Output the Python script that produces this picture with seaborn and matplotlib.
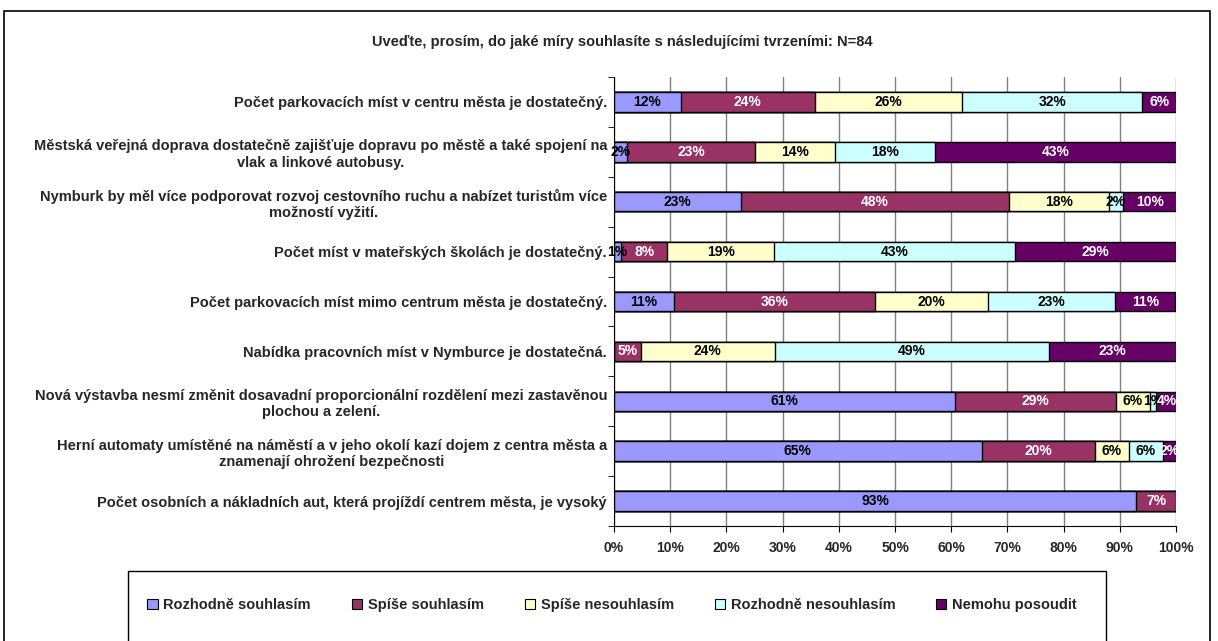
import matplotlib
matplotlib.use("Agg")
import numpy as np
import seaborn as sns
from matplotlib import pyplot as plt
from matplotlib.patches import Patch, Rectangle

title = "Uveďte, prosím, do jaké míry souhlasíte s následujícími tvrzeními: N=84"

statements = [
    "Počet parkovacích míst v centru města je dostatečný.",
    "Městská veřejná doprava dostatečně zajišťuje dopravu po městě a také spojení na\nvlak a linkové autobusy.",
    "Nymburk by měl více podporovat rozvoj cestovního ruchu a nabízet turistům více\nmožností vyžití.",
    "Počet míst v mateřských školách je dostatečný.",
    "Počet parkovacích míst mimo centrum města je dostatečný.",
    "Nabídka pracovních míst v Nymburce je dostatečná.",
    "Nová výstavba nesmí změnit dosavadní proporcionální rozdělení mezi zastavěnou\nplochou a zelení.",
    "Herní automaty umístěné na náměstí a v jeho okolí kazí dojem z centra města a\nznamenají ohrožení bezpečnosti",
    "Počet osobních a nákladních aut, která projíždí centrem města, je vysoký",
]

answers = ["Rozhodně souhlasím", "Spíše souhlasím", "Spíše nesouhlasím",
           "Rozhodně nesouhlasím", "Nemohu posoudit"]
colors = ["#9999FF", "#993366", "#FFFFCC", "#CCFFFF", "#660066"]
text_colors = ["black", "white", "black", "black", "white"]

# shares in %, one list per answer, in statement order
rozhodne_souhlasim = [11.9, 2.4, 22.6, 1.2, 10.7, 0.0, 60.7, 65.4, 92.9]
spise_souhlasim = [23.8, 22.6, 47.6, 8.3, 35.7, 4.8, 28.6, 20.2, 7.1]
spise_nesouhlasim = [26.2, 14.3, 17.9, 19.0, 20.2, 23.8, 6.0, 6.0, 0.0]
rozhodne_nesouhlasim = [32.1, 17.9, 2.4, 42.9, 22.6, 48.8, 1.2, 6.0, 0.0]
nemohu_posoudit = [6.0, 42.9, 9.6, 28.6, 10.7, 22.6, 3.6, 2.4, 0.0]

xticks = [0, 10, 20, 30, 40, 50, 60, 70, 80, 90, 100]


def main():
    sns.set_style("white")
    plt.rcParams["font.family"] = ["Liberation Sans", "DejaVu Sans"]

    values = np.array([rozhodne_souhlasim, spise_souhlasim, spise_nesouhlasim,
                       rozhodne_nesouhlasim, nemohu_posoudit]).T
    cum = np.cumsum(values, axis=1)

    fig = plt.figure(figsize=(12.18, 6.41), dpi=100)
    ax = fig.add_axes([614 / 1218, 1 - 526 / 641, (1176 - 614) / 1218, (526 - 77) / 641])

    # stacked bars: draw cumulative totals from the widest down
    for k in reversed(range(len(answers))):
        sns.barplot(x=cum[:, k], y=statements, orient="h", color=colors[k],
                    saturation=1, edgecolor="black", linewidth=1, width=0.39, ax=ax)

    for i in range(len(statements)):
        for k in range(len(answers)):
            v = values[i, k]
            if v <= 0:
                continue
            ax.text(cum[i, k] - v / 2, i, f"{v:.0f}%", ha="center", va="center",
                    fontsize=10, fontweight="bold", color=text_colors[k])

    ax.set_xlim(0, 100)
    ax.set_ylim(len(statements) - 0.5, -0.5)
    ax.set_xticks(xticks)
    ax.set_xticklabels([f"{t}%" for t in xticks], fontsize=10, fontweight="bold")
    ax.set_xlabel("")
    ax.set_ylabel("")
    ax.xaxis.grid(True, color="#808080", lw=1)
    ax.set_axisbelow(True)

    ax.set_yticks(np.arange(len(statements) + 1) - 0.5, minor=True)
    ax.tick_params(axis="y", which="major", length=0, pad=5)
    ax.tick_params(axis="y", which="minor", length=4, color="black", left=True)
    ax.tick_params(axis="x", length=4, color="black", bottom=True, pad=7)
    for t in ax.get_yticklabels():
        t.set_fontsize(10.5)
        t.set_fontweight("bold")
        t.set_multialignment("center")

    sns.despine(ax=ax, top=True, right=True)
    ax.spines["left"].set_color("black")
    ax.spines["bottom"].set_color("black")

    fig.text(622 / 1218, 1 - 42 / 641, title, ha="center", va="center",
             fontsize=10.5, fontweight="bold")

    # outer chart border and legend frame
    fig.add_artist(Rectangle((4 / 1218, -0.1), 1206 / 1218, 0.1 + 1 - 11 / 641,
                             transform=fig.transFigure, fill=False, lw=1.2,
                             edgecolor="black", clip_on=False))
    fig.add_artist(Rectangle((128 / 1218, -0.1), 978 / 1218, 0.1 + 1 - 571 / 641,
                             transform=fig.transFigure, fill=False, lw=1,
                             edgecolor="black", clip_on=False))

    handles = [Patch(facecolor=c, edgecolor="black", lw=0.8) for c in colors]
    fig.legend(handles, answers, loc="center", ncol=5, frameon=False,
               bbox_to_anchor=(612 / 1218, 1 - 605 / 641),
               handlelength=0.7, handleheight=0.7, handletextpad=0.4,
               columnspacing=2.8, prop={"size": 10.5, "weight": "bold"})

    fig.savefig("out.png", dpi=100)


if __name__ == "__main__":
    main()
